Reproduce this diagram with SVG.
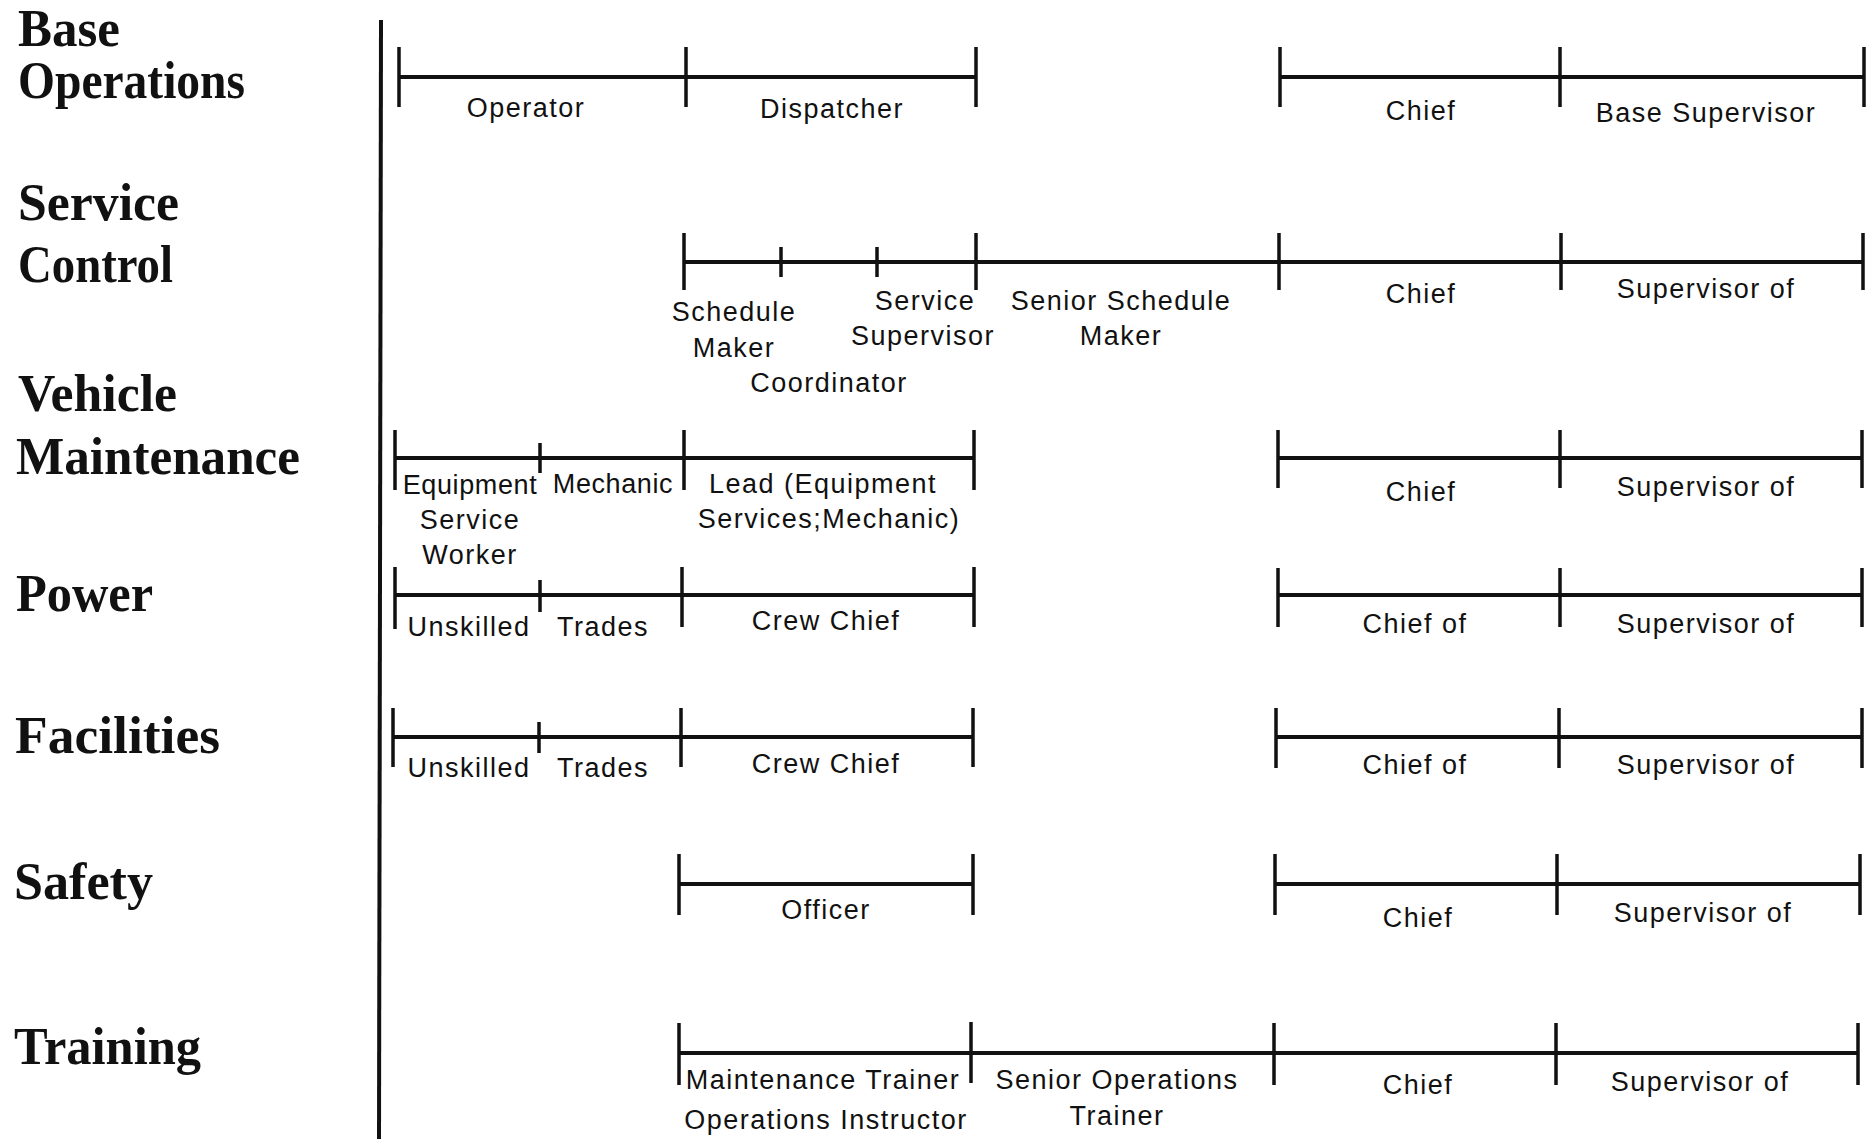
<svg xmlns="http://www.w3.org/2000/svg" width="1872" height="1139" viewBox="0 0 1872 1139">
<style>
.h{font-family:"Liberation Serif","DejaVu Serif",serif;font-weight:bold;font-size:52px;fill:#111}
.l{font-family:"Liberation Sans","DejaVu Sans",sans-serif;font-size:27px;letter-spacing:1.5px;fill:#111;text-anchor:middle}
.n{letter-spacing:0.6px}
.bar{stroke:#111;stroke-width:4;fill:none}
.tk{stroke:#111;stroke-width:3.5;fill:none}
</style>
<rect width="1872" height="1139" fill="#fff"/>
<g id="divider"><line x1="381" y1="20" x2="379" y2="1139" stroke="#111" stroke-width="4"/></g>
<g id="headings">
<text class="h" x="18" y="46" textLength="102" lengthAdjust="spacingAndGlyphs">Base</text>
<text class="h" x="18" y="98" textLength="227" lengthAdjust="spacingAndGlyphs">Operations</text>
<text class="h" x="18" y="220" textLength="161" lengthAdjust="spacingAndGlyphs">Service</text>
<text class="h" x="18" y="282" textLength="155" lengthAdjust="spacingAndGlyphs">Control</text>
<text class="h" x="18" y="411" textLength="159" lengthAdjust="spacingAndGlyphs">Vehicle</text>
<text class="h" x="16" y="474" textLength="284" lengthAdjust="spacingAndGlyphs">Maintenance</text>
<text class="h" x="16" y="611" textLength="137" lengthAdjust="spacingAndGlyphs">Power</text>
<text class="h" x="15" y="753" textLength="205" lengthAdjust="spacingAndGlyphs">Facilities</text>
<text class="h" x="14" y="899" textLength="139" lengthAdjust="spacingAndGlyphs">Safety</text>
<text class="h" x="14" y="1064" textLength="187" lengthAdjust="spacingAndGlyphs">Training</text>
</g>
<g id="connectors">
<path class="bar" d="M399 77H976M1280 77H1864"/>
<path class="tk" d="M399 47V107M686 47V107M976 47V107M1280 47V107M1560 47V107M1864 47V107"/>
<path class="bar" d="M684 262H1863"/>
<path class="tk" d="M684 233V290M976 233V290M1279 233V290M1561 233V290M1863 233V290M781 247V277M877 247V277"/>
<path class="bar" d="M395 458H974M1278 458H1862"/>
<path class="tk" d="M395 430V490M684 430V490M974 430V490M1278 430V488M1560 430V488M1862 430V488M540 443V473"/>
<path class="bar" d="M395 595H974M1278 595H1862"/>
<path class="tk" d="M395 567V629M682 567V627M974 567V627M1278 568V627M1560 568V627M1862 568V627M540 580V612"/>
<path class="bar" d="M393 737H973M1276 737H1862"/>
<path class="tk" d="M393 708V767M681 708V767M973 708V767M1276 708V768M1559 708V768M1862 708V768M539 722V753"/>
<path class="bar" d="M679 884H973M1275 884H1860"/>
<path class="tk" d="M679 854V915M973 854V915M1275 854V915M1557 854V915M1860 854V915"/>
<path class="bar" d="M679 1053H1858"/>
<path class="tk" d="M679 1023V1085M971 1022V1083M1274 1023V1085M1556 1023V1085M1858 1023V1085"/>
</g>
<g id="row-base-operations">
<text class="l" x="526" y="117">Operator</text>
<text class="l" x="832" y="118">Dispatcher</text>
<text class="l" x="1421" y="120">Chief</text>
<text class="l" x="1706" y="122">Base Supervisor</text>
</g>
<g id="row-service-control">
<text class="l" x="734" y="321">Schedule</text>
<text class="l" x="734" y="357">Maker</text>
<text class="l" x="829" y="392">Coordinator</text>
<text class="l" x="925" y="310">Service</text>
<text class="l" x="923" y="345">Supervisor</text>
<text class="l" x="1121" y="310">Senior Schedule</text>
<text class="l" x="1121" y="345">Maker</text>
<text class="l" x="1421" y="303">Chief</text>
<text class="l" x="1706" y="298">Supervisor of</text>
</g>
<g id="row-vehicle-maintenance">
<text class="l n" x="470" y="494">Equipment</text>
<text class="l" x="470" y="529">Service</text>
<text class="l" x="470" y="564">Worker</text>
<text class="l n" x="613" y="493">Mechanic</text>
<text class="l" x="823" y="493">Lead (Equipment</text>
<text class="l" x="829" y="528">Services;Mechanic)</text>
<text class="l" x="1421" y="501">Chief</text>
<text class="l" x="1706" y="496">Supervisor of</text>
</g>
<g id="row-power">
<text class="l" x="469" y="636">Unskilled</text>
<text class="l" x="603" y="636">Trades</text>
<text class="l" x="826" y="630">Crew Chief</text>
<text class="l" x="1415" y="633">Chief of</text>
<text class="l" x="1706" y="633">Supervisor of</text>
</g>
<g id="row-facilities">
<text class="l" x="469" y="777">Unskilled</text>
<text class="l" x="603" y="777">Trades</text>
<text class="l" x="826" y="773">Crew Chief</text>
<text class="l" x="1415" y="774">Chief of</text>
<text class="l" x="1706" y="774">Supervisor of</text>
</g>
<g id="row-safety">
<text class="l" x="826" y="919">Officer</text>
<text class="l" x="1418" y="927">Chief</text>
<text class="l" x="1703" y="922">Supervisor of</text>
</g>
<g id="row-training">
<text class="l" x="823" y="1089">Maintenance Trainer</text>
<text class="l" x="826" y="1129">Operations Instructor</text>
<text class="l" x="1117" y="1089">Senior Operations</text>
<text class="l" x="1117" y="1125">Trainer</text>
<text class="l" x="1418" y="1094">Chief</text>
<text class="l" x="1700" y="1091">Supervisor of</text>
</g>
</svg>
